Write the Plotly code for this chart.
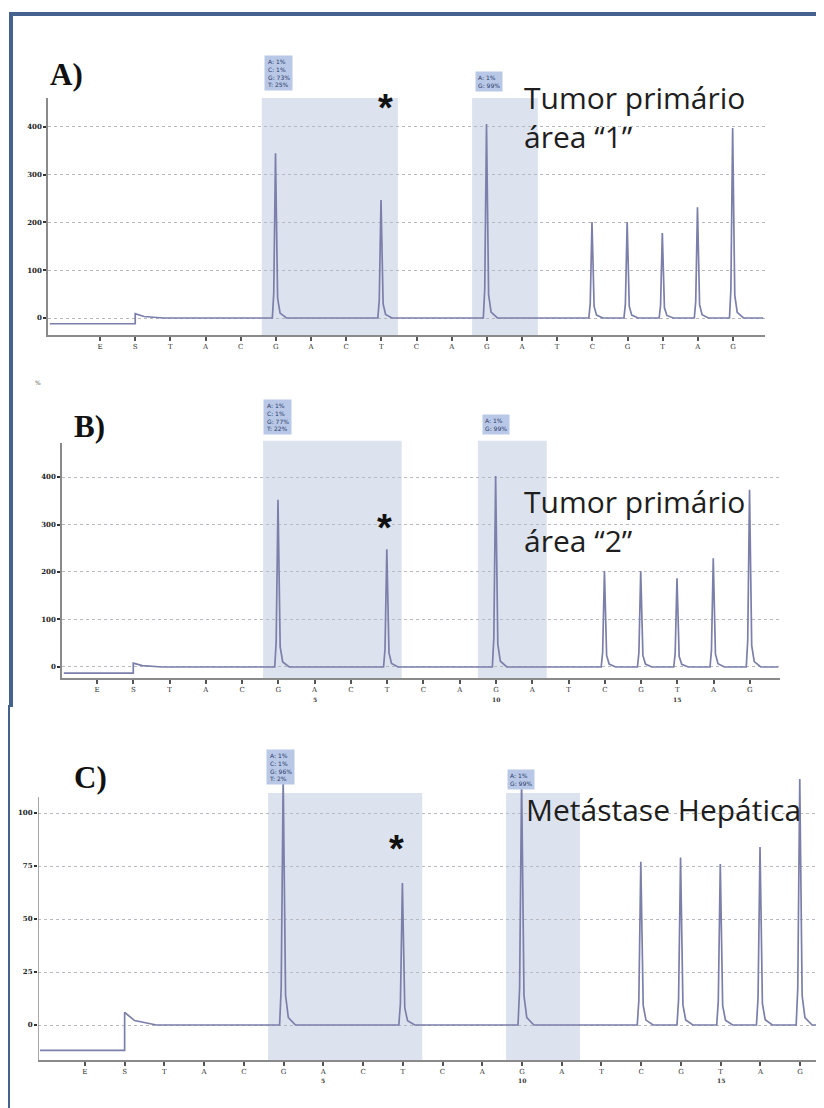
import plotly.graph_objects as go

# page has an 8px body margin: figure is sized to fill the rest of the window
OFF = 8
W, H = 824 - OFF, 1108 - OFF

# ---------------- data ----------------
dispensation = ["E", "S", "T", "A", "C", "G", "A", "C", "T", "C",
                "A", "G", "A", "T", "C", "G", "T", "A", "G"]
position_numbers = {7: "5", 12: "10", 17: "15"}

heights_A = [0, 0, 0, 0, 0, 345, 0, 0, 247, 0, 0, 406, 0, 0, 201, 201, 178, 232, 398]
heights_B = [0, 0, 0, 0, 0, 352, 0, 0, 248, 0, 0, 402, 0, 0, 202, 202, 187, 229, 373]
heights_C = [0, 0, 0, 0, 0, 117, 0, 0, 67, 0, 0, 116, 0, 0, 77, 79, 76, 84, 116]

pre_baseline = {"A": -12, "B": -13, "C": -12}
s_step = {"A": 9, "B": 8, "C": 6}

yticks_AB = [0, 100, 200, 300, 400]
yticks_C = [0, 25, 50, 75, 100]

box1_A = ["A: 1%", "C: 1%", "G: 73%", "T: 25%"]
box1_B = ["A: 1%", "C: 1%", "G: 77%", "T: 22%"]
box1_C = ["A: 1%", "C: 1%", "G: 96%", "T: 2%"]
box2 = ["A: 1%", "G: 99%"]

titles = {"A": ["Tumor primário", "área “1”"],
          "B": ["Tumor primário", "área “2”"],
          "C": ["Metástase Hepática"]}

# ---------------- helpers (window pixel -> paper) ----------------
def px_x(p):
    return (p - OFF) / W

def px_y(p):
    return 1 - (p - OFF) / H

def trace_xy(heights, pre, step, x0, x1):
    xs = [x0, 2, 2, 2.25, 2.8]
    ys = [pre, pre, step, step * 0.35, 0]
    for i, h in enumerate(heights, start=1):
        if h > 0:
            xs += [i - 0.1, i - 0.06, i - 0.01, i + 0.05, i + 0.12, i + 0.3]
            ys += [0, h * 0.15, h, h * 0.12, h * 0.03, 0]
    xs.append(x1)
    ys.append(0)
    return xs, ys

fig = go.Figure()

panels = [
    # name, heights, axis id, x px (left,right), y px (bottom, top), xrange, yrange, yticks
    ("A", heights_A, "", (48, 765), (335, 98), (-0.48, 19.91), (-35.6, 460.7), yticks_AB),
    ("B", heights_B, "2", (62, 780), (678, 443), (0.035, 19.83), (-23.2, 471.6), yticks_AB),
    ("C", heights_C, "3", (38, 824), (1060, 770.6), (-0.18, 19.6), (-16.5, 120), yticks_C),
]

line_color = "#7b7fa9"
shade = "#dce3ee"
axis_col = "#8a8a8a"

for name, hts, ax, xpx, ypx, xr, yr, yt in panels:
    xs, ys = trace_xy(hts, pre_baseline[name], s_step[name], xr[0] + 0.05, xr[1] - 0.05)
    fig.add_trace(go.Scatter(x=xs, y=ys, mode="lines",
                             line=dict(color=line_color, width=1.7),
                             xaxis="x" + ax, yaxis="y" + ax, showlegend=False,
                             hoverinfo="skip"))
    xa = dict(domain=[max(0, px_x(xpx[0])), min(1, px_x(xpx[1]))], range=list(xr),
              anchor="y" + ax, tickmode="array",
              tickvals=list(range(1, len(dispensation) + 1)), ticktext=dispensation,
              showline=True, linecolor=axis_col, linewidth=1.5,
              ticks="outside", ticklen=4, tickcolor="#555", tickwidth=1.5,
              tickfont=dict(size=7, color="#333", family="DejaVu Serif"),
              showgrid=False, zeroline=False, fixedrange=True)
    ya = dict(domain=[px_y(ypx[0]), px_y(ypx[1])], range=list(yr),
              anchor="x" + ax, tickmode="array", tickvals=yt,
              ticktext=[f"<b>{v}</b>" for v in yt],
              showline=(name != "C"), linecolor=axis_col, linewidth=1.5,
              ticks="outside", ticklen=3, tickcolor="#333", tickwidth=2,
              tickfont=dict(size=7, color="#222", family="DejaVu Serif"),
              showgrid=True, gridcolor="#b8b8c0", griddash="dot", gridwidth=1,
              zeroline=False, fixedrange=True)
    fig.update_layout(**{"xaxis" + ax: xa, "yaxis" + ax: ya})

# shaded regions (around dispensations G6..T9 and G12..A13)
shade_regions = {
    "A": [(5.6, 9.47), (11.58, 13.45)],
    "B": [(5.58, 9.4), (11.5, 13.4)],
    "C": [(5.61, 9.49), (11.6, 13.46)],
}
shade_top = {"A": 1.0, "B": 1.01}
shapes = []
for name, hts, ax, xpx, ypx, xr, yr, yt in panels:
    for (a, b) in shade_regions[name]:
        if name == "C":
            shapes.append(dict(type="rect", xref="x3", yref="y3", x0=a, x1=b,
                               y0=yr[0], y1=109.4, fillcolor=shade,
                               line=dict(width=0), layer="below"))
        else:
            shapes.append(dict(type="rect", xref="x" + ax, yref="y" + ax + " domain",
                               x0=a, x1=b, y0=0, y1=shade_top[name],
                               fillcolor=shade, line=dict(width=0), layer="below"))

# y axis line of panel C (extends only up to 107.5)
shapes.append(dict(type="line", xref="x3", yref="y3", x0=-0.18, x1=-0.18,
                   y0=-16.5, y1=107.5, line=dict(color=axis_col, width=1.5)))

# frame
frame_col = "#45628f"
shapes += [
    dict(type="line", xref="paper", yref="paper", x0=px_x(9), x1=px_x(824),
         y0=px_y(14), y1=px_y(14), line=dict(color=frame_col, width=4)),
    dict(type="line", xref="paper", yref="paper", x0=px_x(11), x1=px_x(11),
         y0=px_y(12), y1=px_y(707), line=dict(color=frame_col, width=4)),
    dict(type="line", xref="paper", yref="paper", x0=0, x1=0,
         y0=px_y(705), y1=px_y(1108), line=dict(color=frame_col, width=4)),
    dict(type="line", xref="paper", yref="paper", x0=px_x(818), x1=px_x(818),
         y0=px_y(16), y1=px_y(1108), line=dict(color="#e4e6ea", width=1)),
]

annotations = []

def add_text(text, x, y, size, family="Liberation Sans", color="#222", bold=False,
             xanchor="left", yanchor="middle", align="left"):
    t = f"<b>{text}</b>" if bold else text
    annotations.append(dict(text=t, x=px_x(x), y=px_y(y), xref="paper", yref="paper",
                            showarrow=False, xanchor=xanchor, yanchor=yanchor, align=align,
                            font=dict(size=size, family=family, color=color)))

def add_box(lines, xc, yc):
    annotations.append(dict(text="<br>".join(lines), x=px_x(xc), y=px_y(yc),
                            xref="paper", yref="paper", showarrow=False,
                            xanchor="center", yanchor="middle", align="left",
                            bgcolor="#b9c8e6", borderpad=2,
                            font=dict(size=6, family="DejaVu Sans", color="#2a3a6a")))

# panel letters
add_text("A)", 48, 74, 31, family="Liberation Serif", color="#111", bold=True)
add_text("B)", 72, 427, 31, family="Liberation Serif", color="#111", bold=True)
add_text("C)", 72, 777, 31, family="Liberation Serif", color="#111", bold=True)

# asterisks
add_text("*", 385, 108, 38, family="Liberation Sans", color="#111", bold=True, xanchor="center")
add_text("*", 384, 528, 38, family="Liberation Sans", color="#111", bold=True, xanchor="center")
add_text("*", 396, 849, 38, family="Liberation Sans", color="#111", bold=True, xanchor="center")

# titles (two-line titles as one text block)
TF = 30
add_text("<br>".join(titles["A"]), 522, 117, TF, family="Open Sans", color="#1e1e1e")
add_text("<br>".join(titles["B"]), 522, 521, TF, family="Open Sans", color="#1e1e1e")
add_text(titles["C"][0], 524, 809, TF, family="Open Sans", color="#1e1e1e")

# percentage boxes
add_box(box1_A, 278, 73)
add_box(box2, 489, 81)
add_box(box1_B, 277, 417)
add_box(box2, 496, 424)
add_box(box1_C, 280, 767)
add_box(box2, 521, 779)

# small unit mark in B
add_text("%", 38, 383, 6, family="DejaVu Sans", color="#666", xanchor="center")

# position numbers under panel B and C
for pos, lab in position_numbers.items():
    annotations.append(dict(text=f"<b>{lab}</b>", x=pos, y=px_y(699), xref="x2", yref="paper",
                            showarrow=False, xanchor="center", yanchor="middle",
                            font=dict(size=6, family="DejaVu Serif", color="#333")))
    annotations.append(dict(text=f"<b>{lab}</b>", x=pos, y=px_y(1080), xref="x3", yref="paper",
                            showarrow=False, xanchor="center", yanchor="middle",
                            font=dict(size=6, family="DejaVu Serif", color="#333")))

fig.update_layout(width=W, height=H, margin=dict(l=0, r=0, t=0, b=0),
                  paper_bgcolor="white", plot_bgcolor="rgba(0,0,0,0)",
                  shapes=shapes, annotations=annotations, showlegend=False)

fig.write_html("out.html")
